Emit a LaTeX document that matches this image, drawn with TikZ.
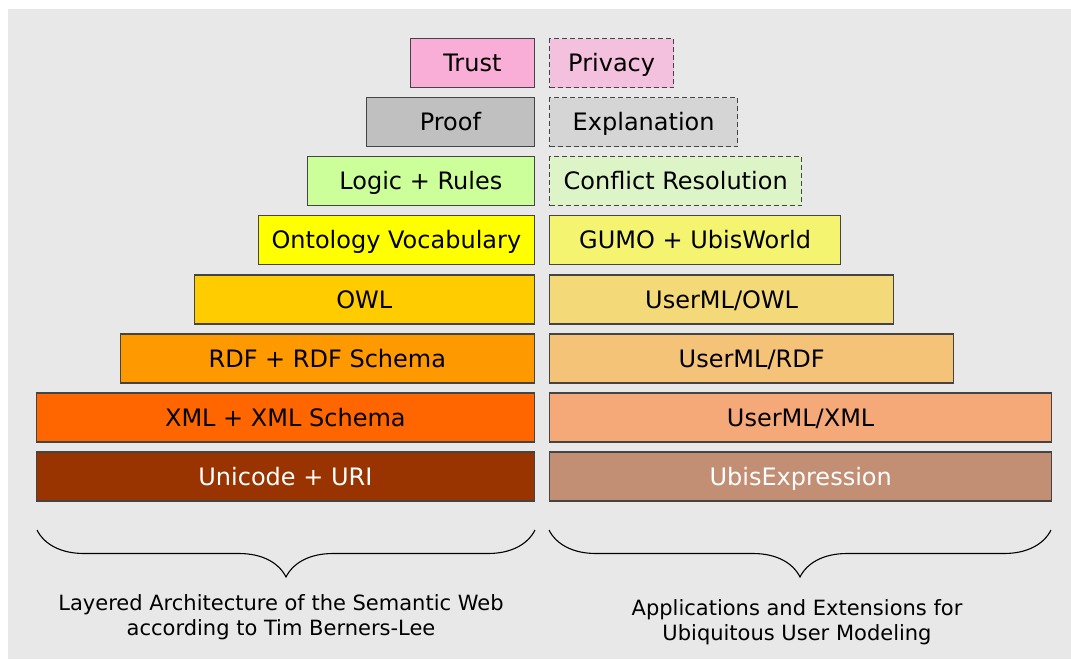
\documentclass[tikz,border=0pt]{standalone}
\usepackage{fontspec}
\setmainfont{DejaVu Sans}
\usetikzlibrary{decorations.pathreplacing}

\definecolor{bggray}{HTML}{E8E8E8}
\definecolor{edgegray}{HTML}{444444}
\definecolor{trustpink}{HTML}{F8AED6}
\definecolor{privpink}{HTML}{F3C1DD}
\definecolor{proofgray}{HTML}{C0C0C0}
\definecolor{explgray}{HTML}{D5D5D5}
\definecolor{logicgreen}{HTML}{CCFF99}
\definecolor{conflgreen}{HTML}{DDF5C6}
\definecolor{ontoyellow}{HTML}{FFFF00}
\definecolor{gumoyellow}{HTML}{F4F470}
\definecolor{owlorange}{HTML}{FFCC00}
\definecolor{umlowl}{HTML}{F3D978}
\definecolor{rdforange}{HTML}{FF9900}
\definecolor{umlrdf}{HTML}{F5C378}
\definecolor{xmlorange}{HTML}{FF6600}
\definecolor{umlxml}{HTML}{F5A878}
\definecolor{unibrown}{HTML}{993300}
\definecolor{ubisbrown}{HTML}{C28E74}

\tikzset{
  layer/.style={draw=edgegray, line width=1.3pt, minimum height=49, inner sep=0pt,
    text height=17.5pt, text depth=0pt, font=\fontsize{24}{28}\selectfont},
  leftlayer/.style={layer, anchor=east},
  rightlayer/.style={layer, anchor=west},
  planned/.style={dash pattern=on 5pt off 3pt},
  caption/.style={align=center, font=\fontsize{21}{25}\selectfont}
}

\begin{document}
\begin{tikzpicture}[x=1pt,y=-1pt]

    % Page and background
    \useasboundingbox (0,0) rectangle (1071,659);
    \fill[bggray] (8,9) rectangle (1071,659);

    % Left stack: Semantic Web layers
    \node[leftlayer, fill=trustpink, minimum width=124] (trust) at (535,63) {Trust};
    \node[leftlayer, fill=proofgray, minimum width=168] (proof) at (535,122) {Proof};
    \node[leftlayer, fill=logicgreen, minimum width=227] (logic) at (535,181) {Logic + Rules};
    \node[leftlayer, fill=ontoyellow, minimum width=276] (onto) at (535,240) {Ontology Vocabulary};
    \node[leftlayer, fill=owlorange, minimum width=340] (owl) at (535,299.5) {OWL};
    \node[leftlayer, fill=rdforange, minimum width=414] (rdf) at (535,358.5) {RDF + RDF Schema};
    \node[leftlayer, fill=xmlorange, minimum width=498] (xml) at (535,417.5) {XML + XML Schema};
    \node[leftlayer, fill=unibrown, text=white, minimum width=498] (uni) at (535,476.5) {Unicode + URI};

    % Right stack: user modeling layers
    \node[rightlayer, planned, fill=privpink, minimum width=124] (privacy) at (549,63) {Privacy};
    \node[rightlayer, planned, fill=explgray, minimum width=188] (expl) at (549,122) {Explanation};
    \node[rightlayer, planned, fill=conflgreen, minimum width=252] (confl) at (549,181) {Conflict Resolution};
    \node[rightlayer, fill=gumoyellow, minimum width=291] (gumo) at (549,240) {GUMO + UbisWorld};
    \node[rightlayer, fill=umlowl, minimum width=344] (umlowl) at (549,299.5) {UserML/OWL};
    \node[rightlayer, fill=umlrdf, minimum width=404] (umlrdf) at (549,358.5) {UserML/RDF};
    \node[rightlayer, fill=umlxml, minimum width=502] (umlxml) at (549,417.5) {UserML/XML};
    \node[rightlayer, fill=ubisbrown, text=white, minimum width=502] (ubis) at (549,476.5) {UbisExpression};

    % Braces under the stacks
    \coordinate (lbl) at (37,530);
    \coordinate (lbr) at (535,530);
    \coordinate (rbl) at (549,530);
    \coordinate (rbr) at (1051,530);
    \draw[line width=1.1pt, decorate, decoration={brace, mirror, amplitude=47pt}] (lbl) -- (lbr);
    \draw[line width=1.1pt, decorate, decoration={brace, mirror, amplitude=47pt}] (rbl) -- (rbr);

    % Captions
    \node[caption] (semweb) at (281,617) {Layered Architecture of the Semantic Web\\according to Tim Berners-Lee};
    \node[caption] (ubium) at (797,622) {Applications and Extensions for\\Ubiquitous User Modeling};

\end{tikzpicture}
\end{document}
